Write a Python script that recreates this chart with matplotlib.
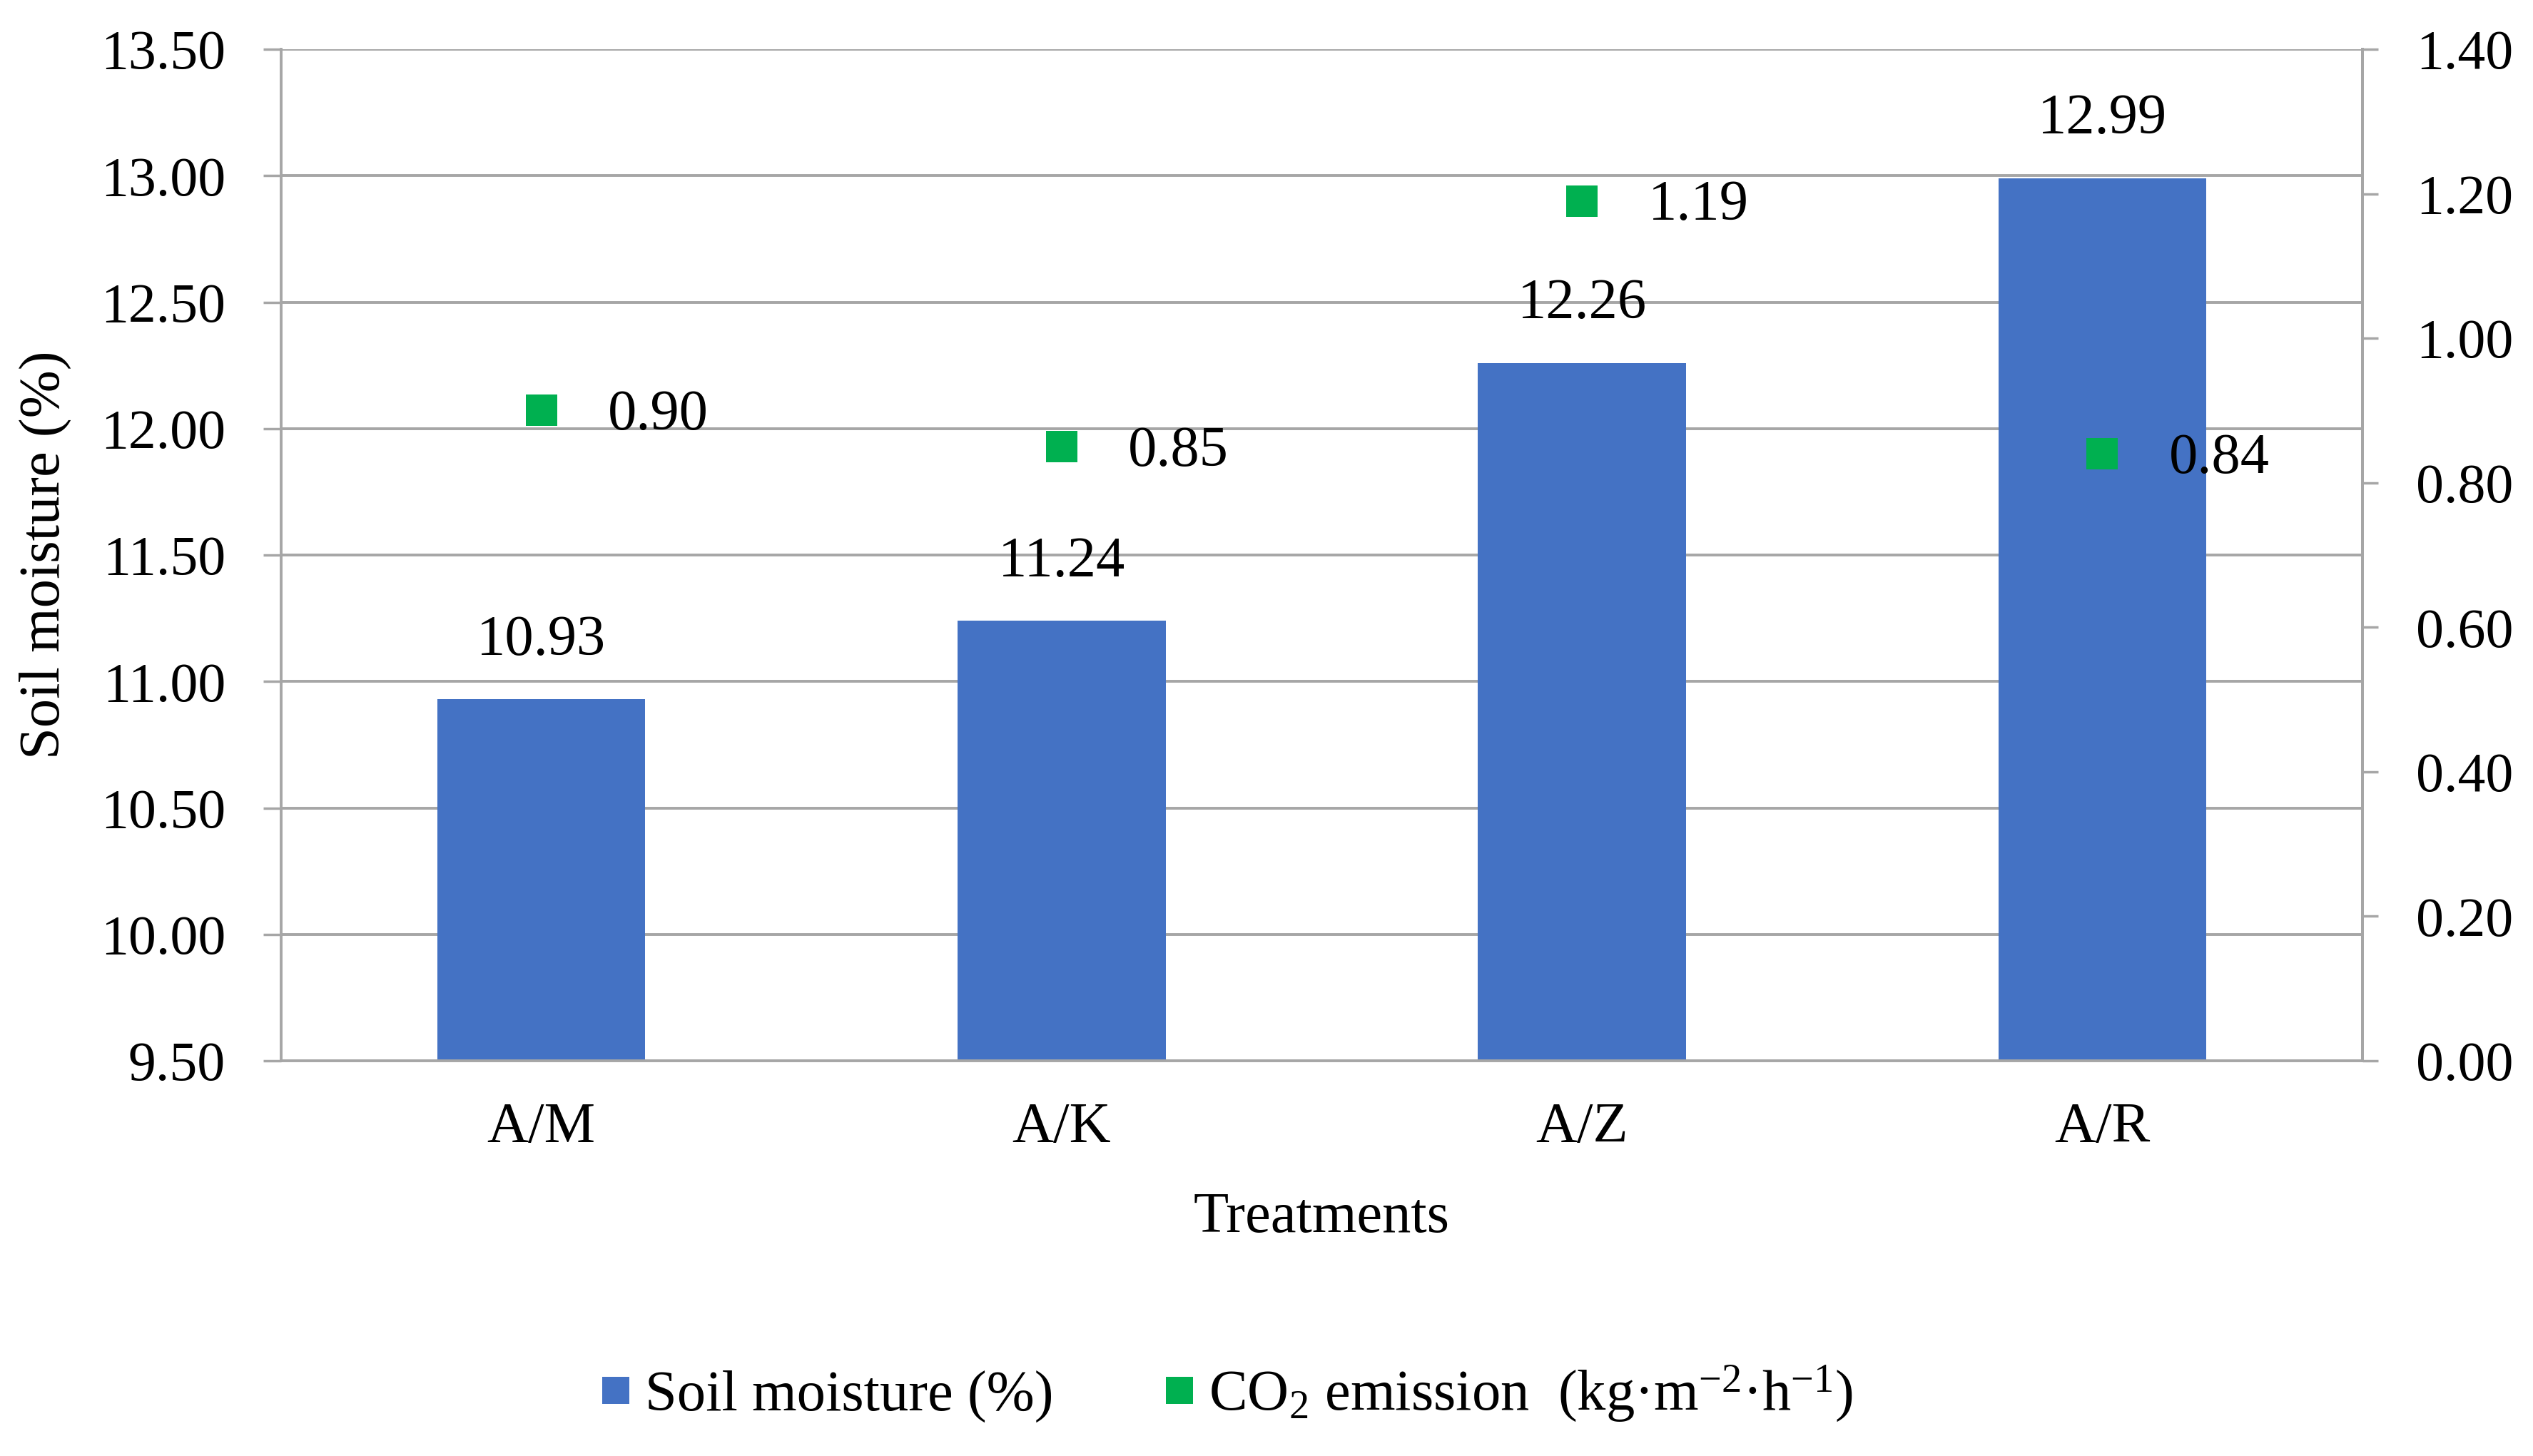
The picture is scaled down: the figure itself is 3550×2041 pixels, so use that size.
import matplotlib
matplotlib.use("Agg")
import matplotlib.pyplot as plt
from matplotlib.lines import Line2D

plt.rcParams['font.family'] = ['Liberation Serif', 'DejaVu Serif']
plt.rcParams['mathtext.fontset'] = 'custom'
plt.rcParams['mathtext.rm'] = 'Liberation Serif'
plt.rcParams['mathtext.it'] = 'Liberation Serif:italic'

categories = ["A/M", "A/K", "A/Z", "A/R"]
soil_moisture = [10.93, 11.24, 12.26, 12.99]
co2_emission = [0.90, 0.85, 1.19, 0.84]
left_ticks = [9.50, 10.00, 10.50, 11.00, 11.50, 12.00, 12.50, 13.00, 13.50]
right_ticks = [0.00, 0.20, 0.40, 0.60, 0.80, 1.00, 1.20, 1.40]

BAR = "#4472C4"
GREEN = "#00B050"
GRID = "#A6A6A6"
FS_TICK = 56
FS = 58

W, H = 3550, 2041
fig = plt.figure(figsize=(W / 100, H / 100), dpi=100)
L, R, T, B = 394, 3311, 69, 1487
ax = fig.add_axes([L / W, (H - B) / H, (R - L) / W, (B - T) / H])

x = list(range(len(categories)))
bars = ax.bar(x, soil_moisture, width=0.4, color=BAR, zorder=2)
ax.set_xlim(-0.5, len(categories) - 0.5)
ax.set_ylim(9.5, 13.5)
ax.set_yticks(left_ticks)
ax.set_yticklabels([f"{v:.2f}" for v in left_ticks], fontsize=FS_TICK)
ax.set_xticks(x)
ax.set_xticklabels(categories, fontsize=FS)
ax.tick_params(axis='x', length=0, pad=42)
ax.tick_params(axis='y', length=25 / 1.389, width=2.5, color=GRID, pad=38)
ax.set_axisbelow(True)
ax.yaxis.grid(True, color=GRID, linewidth=2.8)
ax.spines['top'].set_visible(False)
for s in ['left', 'bottom', 'right']:
    ax.spines[s].set_color(GRID)
    ax.spines[s].set_linewidth(2.8)

for xi, v in zip(x, soil_moisture):
    ax.annotate(f"{v:.2f}", (xi, v), xytext=(0, 59), textcoords='offset points',
                ha='center', va='center', fontsize=FS, zorder=5)

ax.set_xlabel("Treatments", fontsize=FS, va='center')
ax.xaxis.set_label_coords(0.5, -220 / (B - T))
ax.set_ylabel("Soil moisture (%)", fontsize=FS, va='center', ha='center')
ax.yaxis.set_label_coords((63 - L) / (R - L), 0.5)

ax2 = ax.twinx()
ax2.set_ylim(0, 1.4)
ax2.set_yticks(right_ticks)
ax2.set_yticklabels([f"{v:.2f}" for v in right_ticks], fontsize=FS_TICK)
ax2.tick_params(axis='y', length=22 / 1.389, width=2.5, color=GRID, pad=38)
for s in ['top', 'left', 'bottom']:
    ax2.spines[s].set_visible(False)
ax2.spines['right'].set_color(GRID)
ax2.spines['right'].set_linewidth(2.8)
ax2.plot(x, co2_emission, linestyle='none', marker='s', markersize=31,
         color=GREEN, markeredgewidth=0, zorder=4)
for xi, v in zip(x, co2_emission):
    ax2.annotate(f"{v:.2f}", (xi, v), xytext=(67, -5), textcoords='offset points',
                 ha='left', va='center', fontsize=FS, zorder=5)

handles = [
    Line2D([], [], linestyle='none', marker='s', markersize=27, color=BAR, markeredgewidth=0),
    Line2D([], [], linestyle='none', marker='s', markersize=27, color=GREEN, markeredgewidth=0),
]
labels = ["Soil moisture (%)", r"CO$_2$ emission  (kg·m$^{-2}$·h$^{-1}$)"]
fig.legend(handles, labels, loc='center', bbox_to_anchor=(1722 / W, 87 / H), ncol=2,
           frameon=False, fontsize=FS, handlelength=0.4, handletextpad=0.3,
           columnspacing=2.0)

fig.savefig("out.png", dpi=100, facecolor='white')
